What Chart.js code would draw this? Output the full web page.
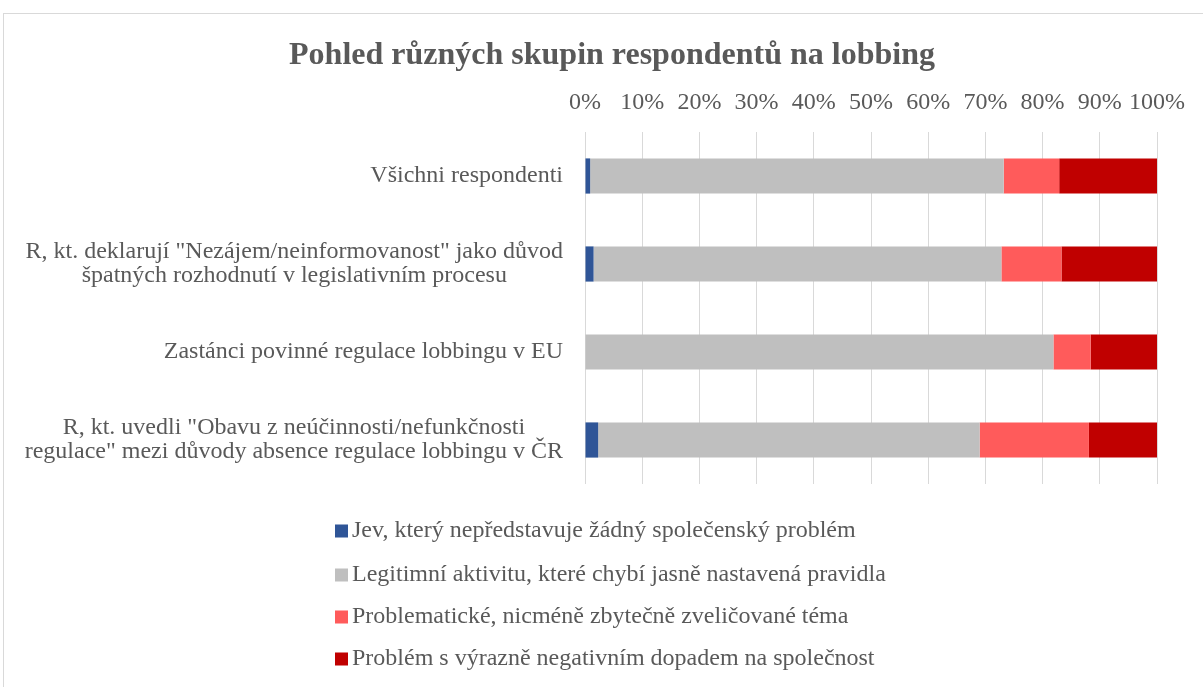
<!DOCTYPE html>
<html><head><meta charset="utf-8">
<script src="https://cdn.jsdelivr.net/npm/chart.js@4"></script>
<style>
html,body{margin:0;padding:0;background:#fff;overflow:hidden;width:1203px;height:687px}
#frame{position:absolute;left:3px;top:13px;width:1300px;height:800px;border:1.5px solid #d9d9d9;box-sizing:border-box}
#wrap{position:absolute;left:0;top:0;width:1203px;height:687px}
</style></head><body>
<div id="frame"></div>
<div id="wrap"><canvas id="c" width="1203" height="687"></canvas></div>
<script>
const chartTitle = 'Pohled různých skupin respondentů na lobbing';
const categories = [
  ['Všichni respondenti'],
  ['R, kt. deklarují "Nezájem/neinformovanost" jako důvod', 'špatných rozhodnutí v legislativním procesu'],
  ['Zastánci povinné regulace lobbingu v EU'],
  ['R, kt. uvedli "Obavu z neúčinnosti/nefunkčnosti', 'regulace" mezi důvody absence regulace lobbingu v ČR']
];
const seriesNames = [
  'Jev, který nepředstavuje žádný společenský problém',
  'Legitimní aktivitu, které chybí jasně nastavená pravidla',
  'Problematické, nicméně zbytečně zveličované téma',
  'Problém s výrazně negativním dopadem na společnost'
];
const jev = [0.9, 1.5, 0, 2.3];
const legitimni = [72.3, 71.3, 81.9, 66.7];
const problematicke = [9.7, 10.5, 6.5, 19.1];
const problem = [17.1, 16.7, 11.6, 11.9];
const tickLabels = ['0%','10%','20%','30%','40%','50%','60%','70%','80%','90%','100%'];
const colors = ['#2f5597', '#bfbfbf', '#ff5b5b', '#c00000'];

const FONT = '"Liberation Serif", "Times New Roman", serif';
const TXT = '#595959';

const seriesValues = [jev, legitimni, problematicke, problem];
const datasets = seriesValues.map((vals, i) => ({
  label: seriesNames[i],
  data: vals,
  backgroundColor: colors[i],
  borderWidth: 0,
  barPercentage: 0.4,
  categoryPercentage: 1.0
}));

const customText = {
  id: 'customText',
  afterDraw(chart) {
    const ctx = chart.ctx;
    const yScale = chart.scales.y;
    ctx.save();
    ctx.fillStyle = TXT;
    // title
    ctx.font = 'bold 32px ' + FONT;
    ctx.textAlign = 'center';
    ctx.textBaseline = 'middle';
    ctx.fillText(chartTitle, 612, 56);
    // category labels: block right-aligned, lines centered within block
    ctx.font = '24px ' + FONT;
    const lh = 24;
    const rightEdge = 563;
    categories.forEach((lines, i) => {
      const yc = yScale.getPixelForValue(i);
      const w = Math.max(...lines.map(l => ctx.measureText(l).width));
      const xc = rightEdge - w / 2;
      const y0 = yc - (lines.length - 1) * lh / 2;
      lines.forEach((l, j) => ctx.fillText(l, xc, y0 + j * lh));
    });
    // legend
    ctx.font = '24px ' + FONT;
    ctx.textAlign = 'left';
    const ly = [531, 575, 617, 659];
    seriesNames.forEach((n, i) => {
      ctx.fillStyle = colors[i];
      ctx.fillRect(335, ly[i] - 6.5, 13, 13);
      ctx.fillStyle = TXT;
      ctx.fillText(n, 352, ly[i]);
    });
    ctx.restore();
  }
};

new Chart(document.getElementById('c'), {
  type: 'bar',
  data: { labels: categories.map(c => c.join(' ')), datasets },
  options: {
    indexAxis: 'y',
    responsive: false,
    animation: false,
    layout: { padding: { left: 0, right: 46, top: 0, bottom: 203 } },
    plugins: { legend: { display: false }, tooltip: { enabled: false }, title: { display: false } },
    scales: {
      x: {
        position: 'top',
        stacked: true,
        min: 0, max: 100,
        ticks: {
          stepSize: 10,
          padding: 15,
          maxRotation: 0,
          minRotation: 0,
          autoSkip: false,
          color: TXT,
          font: { family: FONT, size: 24 },
          callback: (v, i) => tickLabels[i]
        },
        grid: { color: '#d9d9d9', lineWidth: 1, drawTicks: false },
        border: { display: false },
        afterFit: s => { s.height = 132; }
      },
      y: {
        stacked: true,
        ticks: { display: false },
        grid: { display: false },
        border: { display: false },
        afterFit: s => { s.width = 585; }
      }
    }
  },
  plugins: [customText]
});
</script>
</body></html>
